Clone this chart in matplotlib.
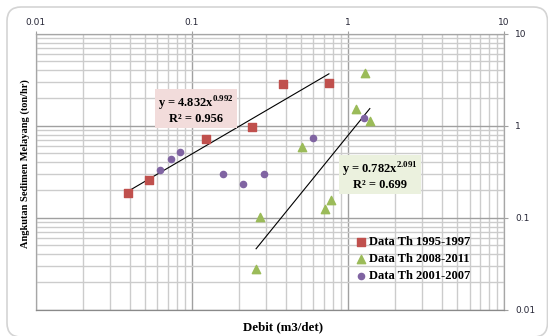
import numpy as np
import matplotlib
matplotlib.use('Agg')
import matplotlib.pyplot as plt
from matplotlib.patches import FancyBboxPatch
from matplotlib.transforms import IdentityTransform
from matplotlib.ticker import LogLocator, NullFormatter

# data (debit m3/det, sediment ton/hr)
x_1995 = [0.0393, 0.0532, 0.1225, 0.244, 0.386, 0.755]
y_1995 = [0.184, 0.255, 0.71, 0.967, 2.81, 2.91]

x_2008 = [1.284, 1.13, 1.38, 0.509, 0.776, 0.711, 0.274, 0.258]
y_2008 = [3.77, 1.53, 1.12, 0.586, 0.157, 0.123, 0.1016, 0.0274]

x_2001 = [0.0624, 0.0736, 0.0837, 0.1585, 0.213, 0.288, 0.597, 1.27]
y_2001 = [0.333, 0.434, 0.518, 0.296, 0.234, 0.296, 0.728, 1.22]

# power trend lines y = a * x^b
trend_1995 = (4.832, 0.992, 0.956)
trend_2008 = (0.782, 2.091, 0.699)

tick_vals = [0.01, 0.1, 1, 10]
tick_labels = ['0.01', '0.1', '1', '10']

serif = 'Liberation Serif'
plt.rcParams['mathtext.fontset'] = 'custom'
plt.rcParams['mathtext.bf'] = 'Liberation Serif:bold'
plt.rcParams['mathtext.rm'] = 'Liberation Serif'

fig = plt.figure(figsize=(5.48, 3.36), dpi=100)
ax = fig.add_axes([0.065, 0.078, 0.855, 0.822])

# rounded chart border
border = FancyBboxPatch((7, -1), 540.5, 330, boxstyle='round,pad=0,rounding_size=14',
                        transform=IdentityTransform(), facecolor='none',
                        edgecolor='#d4d4d4', linewidth=1.2)
fig.add_artist(border)

ax.set_xscale('log')
ax.set_yscale('log')
ax.set_xlim(0.01, 10)
ax.set_ylim(0.01, 10)

ax.scatter(x_1995, y_1995, marker='s', s=34, color='#c0504d', zorder=3,
           label='Data Th 1995-1997')
ax.scatter(x_2008, y_2008, marker='^', s=36, color='#9bbb59', zorder=3,
           label='Data Th 2008-2011')
ax.scatter(x_2001, y_2001, marker='o', s=20, color='#8064a2', zorder=3,
           label='Data Th 2001-2007')

for xs, (a, b, r2) in [(x_1995, trend_1995), (x_2008, trend_2008)]:
    xt = np.array([min(xs), max(xs)])
    ax.plot(xt, a * xt ** b, color='black', lw=0.8, zorder=2)


def eq_text(a, b, r2):
    return ('y = %.3f$\\mathbf{x}^{\\mathbf{%.3f}}$\nR² = %.3f' % (a, b, r2))


# equation boxes
ax.text(0.342, 0.724, eq_text(*trend_1995),
        transform=ax.transAxes, ha='center', va='center', ma='center',
        family=serif, weight='bold', fontsize=9, linespacing=1.0,
        bbox=dict(boxstyle='square,pad=0.25', facecolor='#f2dcdb', edgecolor='none'),
        zorder=4)
ax.text(0.735, 0.486, eq_text(*trend_2008),
        transform=ax.transAxes, ha='center', va='center', ma='center',
        family=serif, weight='bold', fontsize=9, linespacing=1.0,
        bbox=dict(boxstyle='square,pad=0.25', facecolor='#ebf1de', edgecolor='none'),
        zorder=4)

# axes, ticks, grid
ax.xaxis.tick_top()
ax.xaxis.set_label_position('bottom')
ax.yaxis.tick_right()
ax.yaxis.set_label_position('left')
ax.set_xticks(tick_vals, labels=tick_labels)
ax.set_yticks(tick_vals, labels=tick_labels)
for axis in (ax.xaxis, ax.yaxis):
    axis.set_minor_locator(LogLocator(base=10, subs=np.arange(2, 10)))
    axis.set_minor_formatter(NullFormatter())
ax.tick_params(which='major', length=3, width=0.8, color='#a0a0a0',
               labelsize=6.5, labelcolor='#262636', pad=5)
ax.tick_params(axis='x', which='major', length=2, pad=3)
ax.tick_params(which='minor', length=0)
ax.grid(which='major', color='#a0a0a0', lw=1.0)
ax.grid(which='minor', color='#cccccc', lw=1.0)
ax.set_axisbelow(True)
for s in ax.spines.values():
    s.set_color('#a6a6a6')
    s.set_linewidth(0.9)
ax.spines['bottom'].set_color('#8a8a8a')

ax.set_xlabel('Debit (m3/det)', family=serif, weight='bold', fontsize=9.3)
ax.xaxis.set_label_coords(0.528, -0.041)
ax.set_ylabel('Angkutan Sedimen Melayang (ton/hr)', family=serif, weight='bold',
              fontsize=7.5)
ax.yaxis.set_label_coords(-0.012, 0.528)

ax.legend(loc='upper left', bbox_to_anchor=(0.686, 0.267), frameon=False,
          prop={'family': serif, 'weight': 'bold', 'size': 9},
          handlelength=0.7, handletextpad=0.25, labelspacing=0.4,
          borderpad=0, borderaxespad=0, scatterpoints=1)

fig.savefig('out.png', dpi=100)
